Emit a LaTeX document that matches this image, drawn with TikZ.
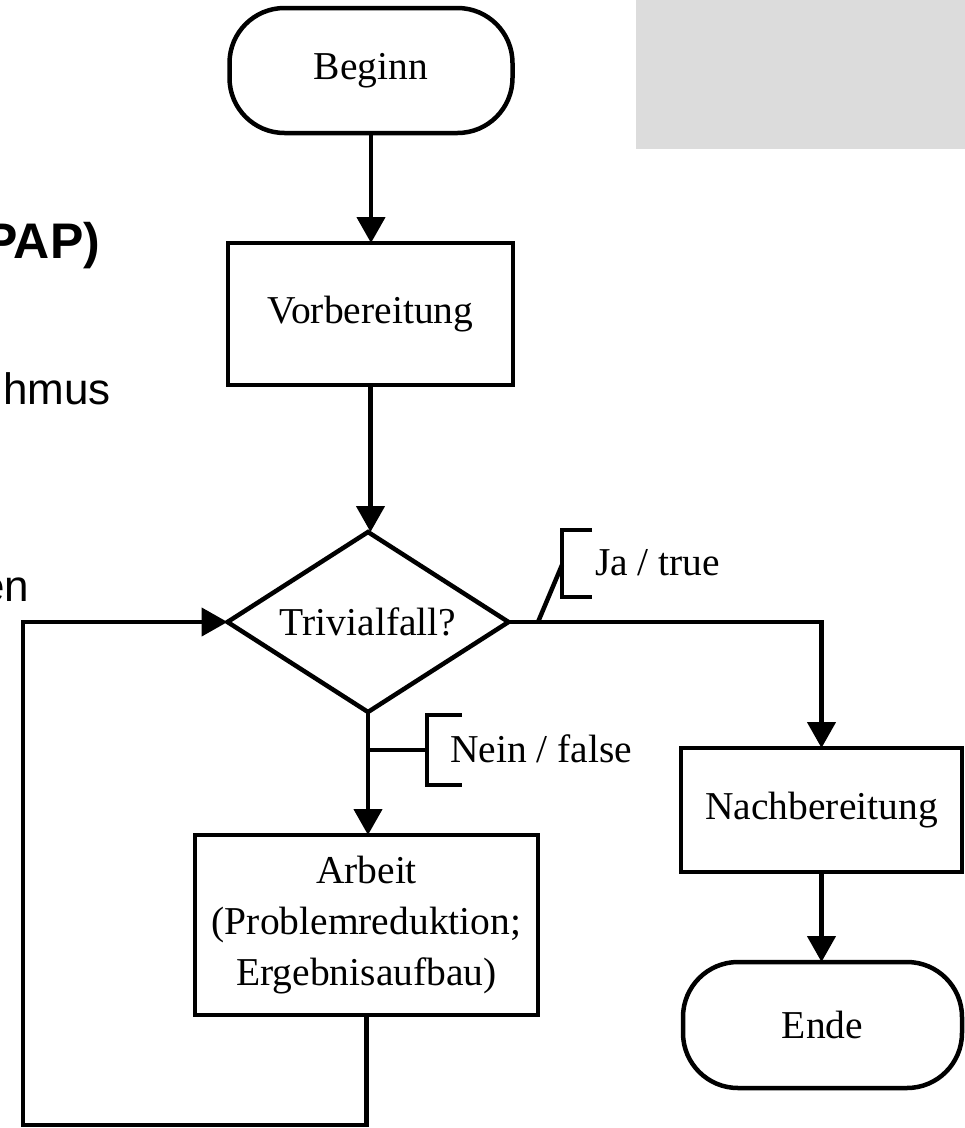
\documentclass[tikz,border=0pt]{standalone}
\usepackage{fontspec}
\setmainfont{Liberation Serif}
\newfontfamily\arialfont{Liberation Sans}
\usetikzlibrary{arrows.meta,shapes.geometric}
\definecolor{greybox}{HTML}{DCDCDC}
\begin{document}
\begin{tikzpicture}[x=1pt,y=-1pt,
  every node/.style={inner sep=0pt, outer sep=0pt},
  stroke/.style={line width=4.5pt},
  flow/.style={line width=4.5pt, -{Triangle[length=26pt,width=28pt]}},
  diafont/.style={font=\fontsize{39.5}{51}\selectfont},
  proc/.style={draw, line width=4.5pt, rectangle, align=center, diafont},
  term/.style={draw, line width=4.5pt, rectangle, rounded corners=55pt, diafont},
  decision/.style={draw, line width=4.5pt, diamond, aspect=1.56, diafont},
  lbl/.style={diafont, anchor=base west},
  slidetext/.style={font=\arialfont\fontsize{44}{52}\selectfont, anchor=base east},
  slidetitle/.style={font=\arialfont\bfseries\fontsize{50}{60}\selectfont, anchor=base east}
]
\useasboundingbox (0,0) rectangle (965,1128);
\fill[white] (0,0) rectangle (965,1128);
% grey panel
\fill[greybox] (636,0) rectangle (965,149);

% slide text fragments
\node[slidetitle] (pap) at (100,258) {PAP)};
\node[slidetext] (hmus) at (111,404) {hmus};
\node[slidetext] (en) at (29,601) {en};

% flowchart nodes
\node[term, minimum width=283pt, minimum height=125pt] (beginn) at (371,70.5) {Beginn};
\node[proc, minimum width=285pt, minimum height=142pt] (vorb) at (370.5,314) {Vorbereitung};
\node[decision, minimum width=281pt, minimum height=180pt] (triv) at (368,622) {Trivialfall?};
\node[proc, minimum width=343pt, minimum height=180pt] (arb) at (366.5,925) {Arbeit\\(Problemreduktion;\\Ergebnisaufbau)};
\node[proc, minimum width=281pt, minimum height=124pt] (nach) at (821.5,810) {Nachbereitung};
\node[term, minimum width=279pt, minimum height=126pt] (ende) at (822.5,1025) {Ende};

% connectors
\draw[flow] (beginn.south) -- (beginn.south |- vorb.north);
\draw[flow] (vorb.south) -- (vorb.south |- triv.north);
\draw[flow] (triv.south) -- (triv.south |- arb.north);
\draw[flow] (triv.east) -| (nach.north);
\draw[flow] (nach.south) -- (nach.south |- ende.north);
\coordinate (loopcorner) at (23,1125);
\draw[flow] (arb.south) |- (loopcorner) |- (triv.west);

% annotation: Ja / true
\node[lbl] (ja) at (595,575) {Ja / true};
\coordinate (jafoot) at (538,622);
\coordinate (jatip) at (562,565);
\draw[stroke] (jafoot) -- (jatip);
\draw[stroke] (592,530) -- (562,530) -- (562,597) -- (592,597);

% annotation: Nein / false
\node[lbl] (nein) at (450,762) {Nein / false};
\coordinate (neinrow) at (0,750);
\coordinate (neinbar) at (427,750);
\draw[stroke] (triv.south |- neinrow) -- (neinbar);
\draw[stroke] (462,715) -- (427,715) -- (427,785) -- (462,785);
\end{tikzpicture}
\end{document}
